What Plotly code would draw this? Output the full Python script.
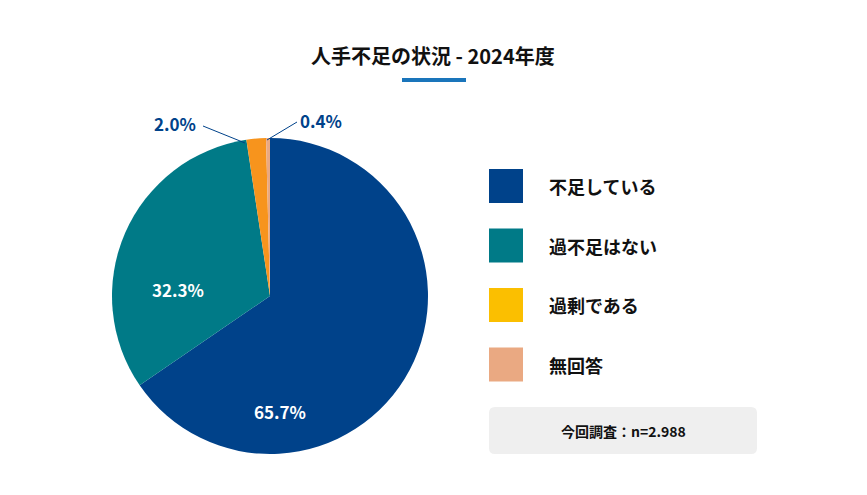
import plotly.graph_objects as go

# data
labels = ["不足している", "過不足はない", "過剰である", "無回答"]
values = [65.7, 32.3, 2.0, 0.4]
slice_colors = ["#00428a", "#007a87", "#f7941d", "#eaa982"]
legend_colors = ["#00428a", "#007a87", "#fbbf00", "#eaa982"]
title = "人手不足の状況 - 2024年度"
note = "今回調査：n=2.988"

W, H = 867, 495
OFF = 8  # page body margin
FONT = "Noto Sans CJK JP"

def px(x):
    return (x - OFF) / W

def py(y):
    return 1 - (y - OFF) / H

fig = go.Figure(go.Pie(
    labels=labels, values=values, sort=False, direction="clockwise", rotation=0,
    marker=dict(colors=slice_colors, line=dict(width=0)),
    textinfo="none",
    domain=dict(x=[px(112), px(428)], y=[py(454), py(138)]),
    showlegend=False, hoverinfo="label+value",
))

def ann(x, y, text, size, color, xanchor="center"):
    return dict(x=px(x), y=py(y), text=text, showarrow=False, xanchor=xanchor,
                yanchor="middle", font=dict(size=size, color=color, family=FONT))

shapes = []
annotations = [
    ann(433, 56, f"<b>{title}</b>", 20, "#111"),
    ann(280, 411, f"<b>{values[0]}%</b>", 17, "white"),
    ann(178, 289, f"<b>{values[1]}%</b>", 17, "white"),
    ann(198, 124, f"<b>{values[2]}%</b>", 17, "#00428a", "right"),
    ann(298, 120, f"<b>{values[3]}%</b>", 17, "#00428a", "left"),
]
def line(x0, y0, x1, y1, color, width):
    return dict(type="line", xref="paper", yref="paper", x0=px(x0), x1=px(x1),
                y0=py(y0), y1=py(y1), line=dict(color=color, width=width))

shapes.append(line(402, 80, 466, 80, "#1a75bb", 4))
shapes.append(line(203, 126, 245, 143, "#00428a", 1))
shapes.append(line(297, 122, 267, 140, "#00428a", 1))

for i, (lab, col) in enumerate(zip(labels, legend_colors)):
    top = 169 + i * 59.5
    shapes.append(dict(type="rect", xref="paper", yref="paper", x0=px(489), x1=px(523),
                       y0=py(top + 34), y1=py(top), fillcolor=col, line=dict(width=0)))
    annotations.append(ann(547, top + 17, f"<b>{lab}</b>", 18, "#111", "left"))

shapes.append(dict(type="path", xref="paper", yref="paper",
                   path=f"M {px(495)},{py(407)} L {px(751)},{py(407)} Q {px(757)},{py(407)} {px(757)},{py(413)} "
                        f"L {px(757)},{py(448)} Q {px(757)},{py(454)} {px(751)},{py(454)} "
                        f"L {px(495)},{py(454)} Q {px(489)},{py(454)} {px(489)},{py(448)} "
                        f"L {px(489)},{py(413)} Q {px(489)},{py(407)} {px(495)},{py(407)} Z",
                   fillcolor="#efefef", line=dict(width=0)))
annotations.append(ann(623, 431, f"<b>{note}</b>", 14, "#111"))

fig.update_layout(width=W, height=H, margin=dict(l=0, r=0, t=0, b=0),
                  paper_bgcolor="white", plot_bgcolor="white",
                  shapes=shapes, annotations=annotations, font=dict(family=FONT))
fig.write_html("out.html")
